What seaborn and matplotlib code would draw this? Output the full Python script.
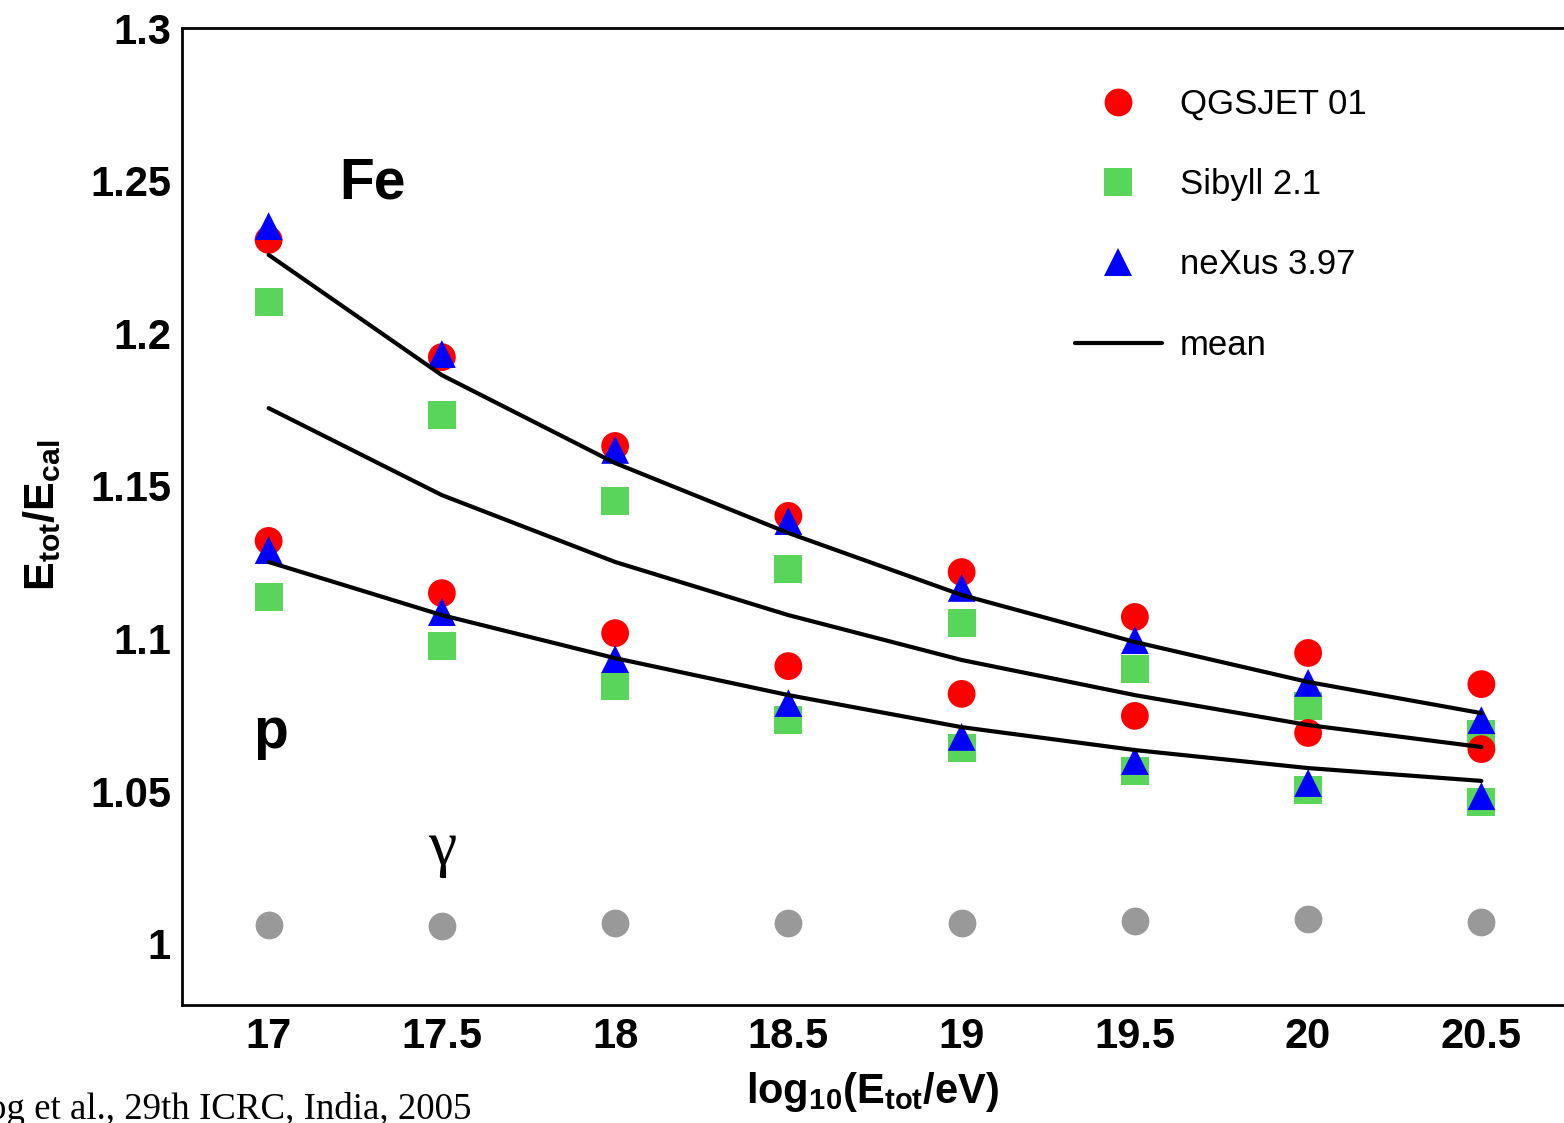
import numpy as np
import pandas as pd
import matplotlib
matplotlib.use("Agg")
import matplotlib.pyplot as plt
import seaborn as sns
from matplotlib.lines import Line2D
from matplotlib.ticker import MultipleLocator, FormatStrFormatter

# ---------------- data ----------------
energies = [17, 17.5, 18, 18.5, 19, 19.5, 20, 20.5]
models = ["QGSJET 01", "Sibyll 2.1", "neXus 3.97"]

fe_qgsjet = [1.2306, 1.1922, 1.1631, 1.1402, 1.1218, 1.1071, 1.0953, 1.0851]
fe_sibyll = [1.2103, 1.1732, 1.1451, 1.1228, 1.1051, 1.0900, 1.0779, 1.0688]
fe_nexus = [1.2351, 1.1932, 1.1618, 1.1385, 1.1166, 1.0995, 1.0855, 1.0733]

p_qgsjet = [1.1320, 1.1149, 1.1018, 1.0910, 1.0819, 1.0747, 1.0691, 1.0638]
p_sibyll = [1.1136, 1.0976, 1.0845, 1.0733, 1.0642, 1.0566, 1.0504, 1.0465]
p_nexus = [1.1290, 1.1087, 1.0933, 1.0789, 1.0678, 1.0599, 1.0527, 1.0484]

fe_mean = [1.2257, 1.1863, 1.1575, 1.1346, 1.1143, 1.0989, 1.0858, 1.0756]
mid_mean = [1.1755, 1.1470, 1.1251, 1.1077, 1.0930, 1.0815, 1.0717, 1.0645]
p_mean = [1.1251, 1.1077, 1.0936, 1.0815, 1.0710, 1.0635, 1.0576, 1.0534]

gamma_vals = [1.0062, 1.0059, 1.0068, 1.0068, 1.0068, 1.0075, 1.0082, 1.0072]

x_ticks = [17, 17.5, 18, 18.5, 19, 19.5, 20, 20.5]
y_ticks = [1.0, 1.05, 1.1, 1.15, 1.2, 1.25, 1.3]

colors = {"QGSJET 01": "#ff0000", "Sibyll 2.1": "#59d659", "neXus 3.97": "#0000ff"}
markers = {"QGSJET 01": "o", "Sibyll 2.1": "s", "neXus 3.97": "^"}

# ---------------- tables ----------------
rows = []
for prim, series in [("Fe", [fe_qgsjet, fe_sibyll, fe_nexus]),
                     ("p", [p_qgsjet, p_sibyll, p_nexus])]:
    for m, vals in zip(models, series):
        for e, v in zip(energies, vals):
            rows.append({"E": e, "ratio": v, "model": m, "primary": prim})
points = pd.DataFrame(rows)

line_rows = []
for name, vals in [("Fe", fe_mean), ("mid", mid_mean), ("p", p_mean)]:
    for e, v in zip(energies, vals):
        line_rows.append({"E": e, "ratio": v, "curve": name})
lines = pd.DataFrame(line_rows)

gamma = pd.DataFrame({"E": energies, "ratio": gamma_vals})

# ---------------- style ----------------
sns.set_theme(style="white")
plt.rcParams["font.family"] = ["Liberation Sans", "DejaVu Sans"]
plt.rcParams["mathtext.fontset"] = "custom"
plt.rcParams["mathtext.rm"] = "Liberation Sans"
plt.rcParams["mathtext.bf"] = "Liberation Sans:bold"
plt.rcParams["mathtext.it"] = "Liberation Sans:italic"
plt.rcParams["text.color"] = "black"
plt.rcParams["axes.labelcolor"] = "black"
plt.rcParams["xtick.color"] = "black"
plt.rcParams["ytick.color"] = "black"

W, H = 1564, 1123
fig = plt.figure(figsize=(W / 100, H / 100), dpi=100)
ax_left, ax_bottom = 182 / W, 1 - 1005 / H
ax_w, ax_h = 1386 / W, (1005 - 28) / H
ax = fig.add_axes([ax_left, ax_bottom, ax_w, ax_h])
ax.set_facecolor("white")

sns.scatterplot(data=gamma, x="E", y="ratio", color="#999999", s=400,
                linewidth=0, marker="o", ax=ax, legend=False, zorder=1)
sns.scatterplot(data=points, x="E", y="ratio", hue="model", style="model",
                palette=colors, markers=markers, s=400, linewidth=0,
                ax=ax, legend=False, zorder=1)
sns.lineplot(data=lines, x="E", y="ratio", units="curve", estimator=None,
             color="black", lw=3, ax=ax, legend=False, sort=False, zorder=3)

ax.set_xlim(16.75, 20.75)
ax.set_ylim(0.98, 1.3)

ax.xaxis.set_major_locator(plt.FixedLocator(x_ticks))
ax.yaxis.set_major_locator(plt.FixedLocator(y_ticks))
ax.xaxis.set_minor_locator(MultipleLocator(0.1))
ax.yaxis.set_minor_locator(MultipleLocator(0.01))
ax.xaxis.set_major_formatter(FormatStrFormatter("%g"))
ax.yaxis.set_major_formatter(FormatStrFormatter("%g"))

tick_col = "#555555"
ax.tick_params(axis="x", which="major", direction="in", length=20, width=1.1,
               color=tick_col, labelcolor="black", pad=9, labelsize=30)
ax.tick_params(axis="x", which="minor", direction="in", length=9.5, width=1.1,
               color=tick_col)
ax.tick_params(axis="y", which="major", direction="in", length=31, width=1.1,
               color=tick_col, labelcolor="black", pad=8, labelsize=30)
ax.tick_params(axis="y", which="minor", direction="in", length=16, width=1.1,
               color=tick_col)
ax.tick_params(top=False, right=False, which="both")
for lab in ax.get_xticklabels() + ax.get_yticklabels():
    lab.set_fontweight("bold")

for side in ["left", "bottom", "top"]:
    ax.spines[side].set_visible(True)
    ax.spines[side].set_color("black")
    ax.spines[side].set_linewidth(2)
ax.spines["right"].set_visible(False)

ax.set_xlabel(r"$\mathbf{log_{10}(E_{tot}/eV)}$", fontsize=30, va="center", color="black")
ax.xaxis.set_label_coords(0.498, -0.089)
ax.set_ylabel(r"$\mathbf{E_{tot}/E_{cal}}$", fontsize=31, va="center", color="black")
ax.yaxis.set_label_coords(-0.101, 0.5015)

ax.text(17.30, 1.244, "Fe", fontsize=41, fontweight="bold", color="black",
        ha="center", va="baseline")
ax.text(17.005, 1.0642, "p", fontsize=41, fontweight="bold", color="black",
        ha="center", va="baseline")
ax.text(17.5, 1.0262, "\u03b3", fontsize=46, color="black",
        family=["Liberation Serif", "DejaVu Serif"], ha="center", va="baseline")

# legend
handles = [Line2D([], [], linestyle="none", marker=markers[m], markersize=20,
                  markerfacecolor=colors[m], markeredgewidth=0, label=m) for m in models]
handles.append(Line2D([], [], color="black", lw=3, label="mean"))
leg = ax.legend(handles=handles, loc="upper left",
                bbox_to_anchor=(1075 / W, 1 - 88 / H), bbox_transform=fig.transFigure,
                frameon=False, fontsize=25, handlelength=2.5, handletextpad=0.52,
                labelspacing=1.36, borderpad=0, borderaxespad=0)
for t in leg.get_texts():
    t.set_color("black")

fig.text(-12 / W, 1 - 1119 / H, "og et al., 29th ICRC, India, 2005",
         family=["Liberation Serif", "DejaVu Serif"], fontsize=26.6, color="black",
         ha="left", va="baseline")

fig.savefig("out.png", dpi=100, facecolor="white")
